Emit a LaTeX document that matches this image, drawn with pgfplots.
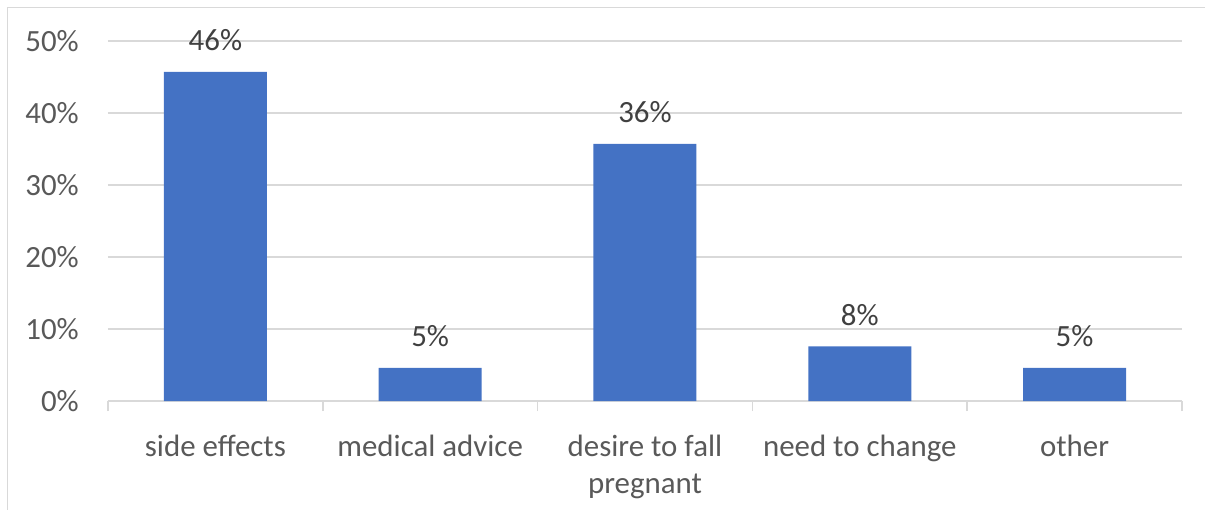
\documentclass[border=0pt]{standalone}
\usepackage{fontspec}
\setmainfont{Carlito}
\usepackage{pgfplots}
\pgfplotsset{compat=1.18}
\definecolor{barblue}{HTML}{4472C4}
\definecolor{gridgray}{HTML}{D9D9D9}
\definecolor{ticktext}{HTML}{595959}
\definecolor{labeltext}{HTML}{404040}
\begin{document}
\begin{tikzpicture}
\path[use as bounding box] (-108bp,-109bp) rectangle (1097bp,401bp);
\draw[gridgray, line width=1.5bp] (-100.5bp,-109bp) -- (-100.5bp,393.5bp) -- (1097bp,393.5bp);
\begin{axis}[
  at={(0,0)}, anchor=south west,
  width=1074bp, height=360bp, scale only axis,
  xmin=-0.5, xmax=4.5, ymin=0, ymax=50,
  ytick={0,10,20,30,40,50},
  yticklabel={\pgfmathprintnumber{\tick}\%},
  /pgf/number format/assume math mode=true,
  ymajorgrids,
  grid style={gridgray, line width=1.5bp},
  axis line style={draw=none},
  ytick style={draw=none},
  xtick pos=left,
  xtick={0,1,2,3,4},
  xticklabels={side effects, medical advice, {\begin{tabular}[t]{@{}c@{}}desire to fall\\pregnant\end{tabular}}, need to change, other},
  major x tick style={draw=none},
  extra x ticks={-0.5,0.5,1.5,2.5,3.5,4.5},
  extra x tick labels={},
  extra x tick style={major tick length=10bp, tick align=outside, xtick pos=left, major x tick style={draw=gridgray, line width=1.5bp}, xmajorgrids=false},
  yticklabel style={anchor=east, inner sep=0pt, xshift=-29bp, font=\fontsize{31}{37}\selectfont, text=ticktext},
  xticklabel style={anchor=base, inner sep=0pt, yshift=-51bp, font=\fontsize{31}{37}\selectfont, text=ticktext},
  ybar, bar width=103bp,
  nodes near coords={\pgfmathprintnumber[fixed,precision=0]{\pgfplotspointmeta}\%},
  nodes near coords style={anchor=base, inner sep=0pt, yshift=21bp, font=\fontsize{31}{37}\selectfont, text=labeltext},
]
\addplot[fill=barblue, draw=none, bar shift=0pt] coordinates {(0,45.7) (1,4.6) (2,35.7) (3,7.6) (4,4.6)};
\end{axis}
\end{tikzpicture}
\end{document}
